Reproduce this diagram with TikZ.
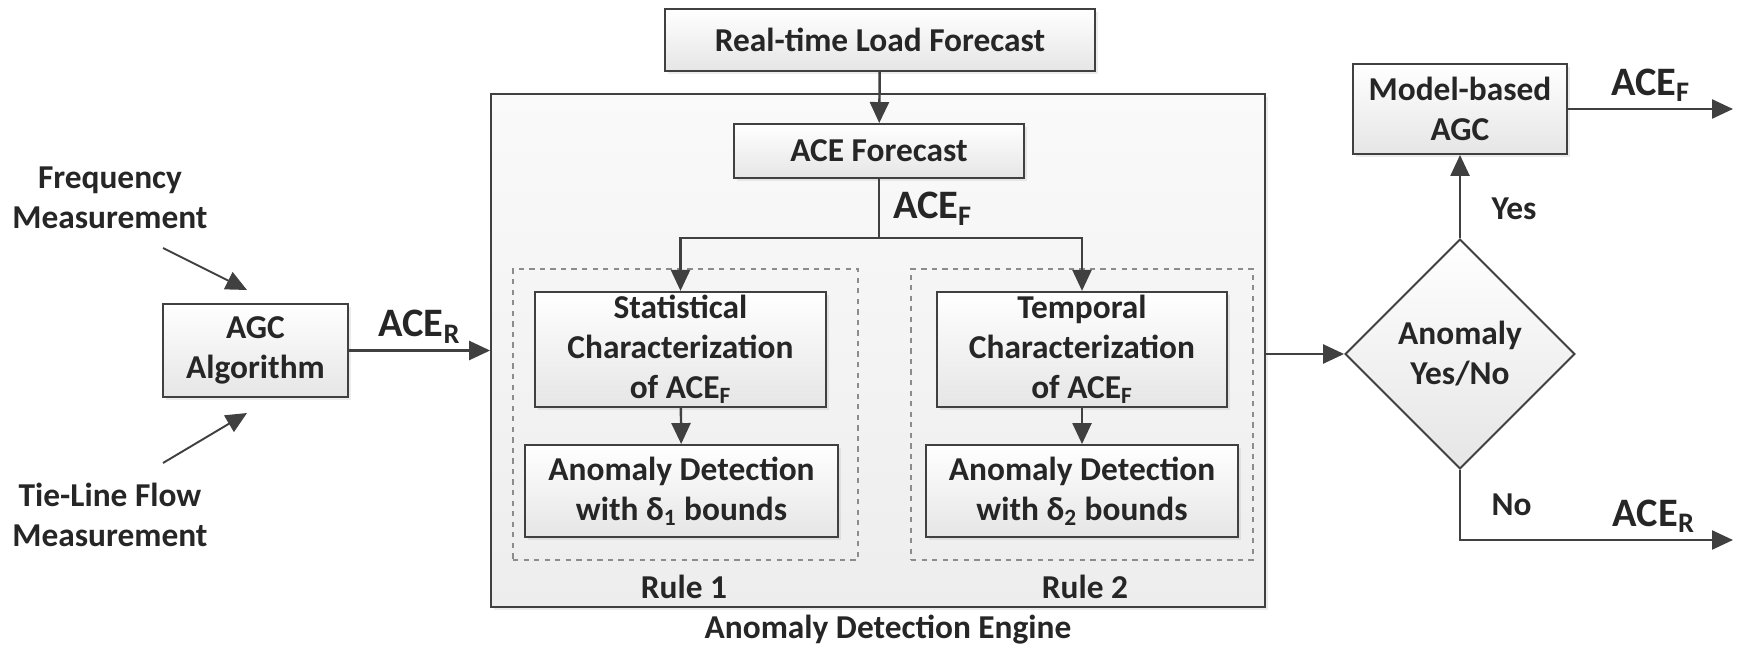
\documentclass[tikz,border=0pt]{standalone}
\usepackage{fontspec}
\setmainfont{Carlito}
\usepackage{tikz}
\usetikzlibrary{arrows.meta,positioning,shapes.geometric,shadows}
\definecolor{ink}{HTML}{404040}
\definecolor{dashgray}{HTML}{8C8C8C}
\definecolor{txt}{HTML}{262626}

\begin{document}
\begin{tikzpicture}[
  x=0.02cm,y=-0.02cm,
  font=\fontsize{19}{22.8}\selectfont\bfseries,text=txt,
  blk/.style={rectangle,draw=ink,line width=1.1pt,top color=white,bottom color=black!10,
              align=center,inner sep=2pt,
              drop shadow={shadow xshift=1.6pt,shadow yshift=-1.6pt,opacity=0.15}},
  engine/.style={rectangle,draw=ink,line width=1.1pt,top color=black!2,bottom color=black!7,
                 minimum width=15.48cm,minimum height=10.26cm,
                 drop shadow={shadow xshift=1.6pt,shadow yshift=-1.6pt,opacity=0.15}},
  rulebox/.style={rectangle,draw=dashgray,dashed,line width=0.9pt,minimum height=5.82cm},
  dec/.style={diamond,draw=ink,line width=1.1pt,top color=white,bottom color=black!10,
              minimum width=4.6cm,minimum height=4.6cm,inner sep=0pt,align=center},
  arr/.style={-{Triangle[length=4.2mm,width=3.8mm]},draw=ink,line width=1.4pt},
  ln/.style={draw=ink,line width=1.4pt},
  big/.style={font=\fontsize{23}{27}\selectfont\bfseries}
]
\useasboundingbox (0,0) rectangle (1741,648);

% engine and its two rules
\node[engine] (eng) at (878,350.5) {};
\node[rulebox,minimum width=6.9cm]  (r1) at (685.5,414.5) {};
\node[rulebox,minimum width=6.84cm] (r2) at (1082,414.5) {};
\node (r1l) at (684,587) {Rule 1};
\node (r2l) at (1085,587) {Rule 2};
\node (engl) at (888,630) {Anomaly Detection Engine};

\node[blk,minimum width=8.6cm,minimum height=1.24cm] (rtlf) at (880,40) {Real-time Load Forecast};
\node[blk,minimum width=5.8cm,minimum height=1.08cm] (acef) at (879,151) {ACE Forecast};
\node[blk,minimum width=5.82cm,minimum height=2.3cm] (stat) at (680.5,349.5)
  {Statistical\\Characterization\\of ACE\textsubscript{F}};
\node[blk,minimum width=6.26cm,minimum height=1.84cm] (ad1) at (681.5,491)
  {Anomaly Detection\\with δ\textsubscript{1} bounds};
\node[blk,minimum width=5.8cm,minimum height=2.3cm] (temp) at (1082,349.5)
  {Temporal\\Characterization\\of ACE\textsubscript{F}};
\node[blk,minimum width=6.24cm,minimum height=1.84cm] (ad2) at (1082,491)
  {Anomaly Detection\\with δ\textsubscript{2} bounds};
\coordinate (sp) at (879,238);

\draw[arr] (rtlf) -- (acef);
\draw[ln] (acef) -- node[big,right=4pt]{ACE\textsubscript{F}} (sp);
\draw[arr] (sp) -| (stat.north);
\draw[arr] (sp) -| (temp.north);
\draw[arr] (stat) -- (ad1);
\draw[arr] (temp) -- (ad2);

% inputs
\node[blk,minimum width=3.7cm,minimum height=1.86cm] (agc) at (255.5,350.5) {AGC\\Algorithm};
\node[align=center] (freq) at (110,198) {Frequency\\Measurement};
\node[align=center] (tie) at (110,515) {Tie-Line Flow\\Measurement};
\coordinate (f0) at (163,248);
\coordinate (f1) at (247,290);
\coordinate (t0) at (163,463);
\coordinate (t1) at (247,413);
\draw[arr,line width=1.1pt] (f0) -- (f1);
\draw[arr,line width=1.1pt] (t0) -- (t1);
\draw[arr] (agc.east) -- node[big,above]{ACE\textsubscript{R}} (agc.east -| eng.west);

% decision
\node[dec] (ano) at (1460,354) {Anomaly\\Yes/No};
\node[blk,minimum width=4.28cm,minimum height=1.8cm] (mb) at (1460,109) {Model-based\\AGC};
\coordinate (outf) at (1733,109);
\coordinate (outr) at (1733,540);
\draw[arr] (ano.west -| eng.east) -- (ano.west);
\draw[arr] (ano.north) -- node[pos=0.35,right=14pt]{Yes} (mb.south);
\draw[arr] (mb.east) -- node[big,above]{ACE\textsubscript{F}} (outf);
\draw[arr] (ano.south) |- node[pos=0.25,right=14pt]{No} node[big,pos=0.855,above]{ACE\textsubscript{R}} (outr);
\end{tikzpicture}
\end{document}
